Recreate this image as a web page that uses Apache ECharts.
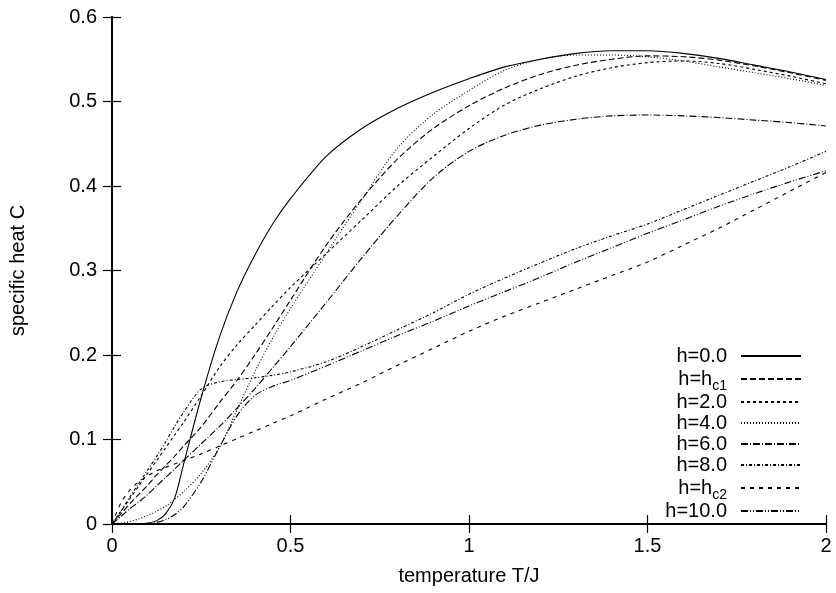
<!DOCTYPE html>
<html>
<head>
<meta charset="utf-8">
<script src="https://cdn.jsdelivr.net/npm/echarts@6/dist/echarts.min.js"></script>
<style>html,body{margin:0;padding:0;background:#fff}#c{width:836px;height:593px}</style>
</head>
<body>
<div id="c"></div>
<script>
const temperature = [0, 0.025, 0.05, 0.075, 0.1, 0.125, 0.15, 0.175, 0.2, 0.25, 0.3, 0.35, 0.4, 0.45, 0.5, 0.6, 0.7, 0.8, 0.9, 1.0, 1.1, 1.2, 1.3, 1.4, 1.5, 1.6, 1.7, 1.8, 1.9, 2.0];
const h0   = [0, 0, 0, 0, 0.001, 0.004, 0.012, 0.03, 0.07, 0.15, 0.22, 0.275, 0.318, 0.355, 0.385, 0.435, 0.468, 0.492, 0.511, 0.527, 0.541, 0.55, 0.557, 0.56, 0.56, 0.557, 0.551, 0.543, 0.535, 0.526];
const hc1  = [0, 0.012, 0.024, 0.035, 0.046, 0.058, 0.069, 0.08, 0.092, 0.115, 0.143, 0.17, 0.2, 0.232, 0.265, 0.33, 0.385, 0.432, 0.468, 0.495, 0.516, 0.532, 0.543, 0.55, 0.554, 0.553, 0.549, 0.542, 0.534, 0.525];
const h2   = [0, 0.015, 0.03, 0.045, 0.06, 0.075, 0.09, 0.105, 0.12, 0.152, 0.185, 0.212, 0.235, 0.258, 0.28, 0.32, 0.36, 0.4, 0.435, 0.468, 0.496, 0.515, 0.53, 0.54, 0.546, 0.548, 0.545, 0.538, 0.53, 0.521];
const h4   = [0, 0.001, 0.003, 0.006, 0.01, 0.015, 0.021, 0.029, 0.038, 0.06, 0.09, 0.135, 0.18, 0.22, 0.255, 0.32, 0.384, 0.445, 0.485, 0.513, 0.537, 0.55, 0.555, 0.555, 0.553, 0.548, 0.541, 0.534, 0.527, 0.519];
const h6   = [0, 0.009, 0.018, 0.026, 0.035, 0.045, 0.055, 0.065, 0.075, 0.095, 0.115, 0.137, 0.16, 0.185, 0.21, 0.262, 0.315, 0.365, 0.41, 0.441, 0.46, 0.472, 0.479, 0.483, 0.484, 0.483, 0.481, 0.478, 0.475, 0.471];
const h8   = [0, 0.015, 0.032, 0.048, 0.064, 0.08, 0.097, 0.115, 0.132, 0.16, 0.168, 0.171, 0.173, 0.176, 0.18, 0.192, 0.21, 0.23, 0.25, 0.272, 0.291, 0.309, 0.326, 0.341, 0.355, 0.372, 0.389, 0.406, 0.423, 0.441];
const hc2  = [0, 0.025, 0.04, 0.05, 0.057, 0.063, 0.067, 0.071, 0.075, 0.083, 0.092, 0.101, 0.11, 0.119, 0.128, 0.148, 0.167, 0.188, 0.208, 0.228, 0.246, 0.262, 0.278, 0.294, 0.31, 0.33, 0.35, 0.372, 0.394, 0.416];
const h10  = [0, 0, 0, 0, 0, 0.002, 0.005, 0.011, 0.02, 0.05, 0.09, 0.128, 0.152, 0.163, 0.17, 0.187, 0.205, 0.223, 0.24, 0.258, 0.275, 0.292, 0.31, 0.327, 0.344, 0.36, 0.376, 0.391, 0.405, 0.418];
const seriesNames = ['h=0.0', 'h=hc1', 'h=2.0', 'h=4.0', 'h=6.0', 'h=8.0', 'h=hc2', 'h=10.0'];
const seriesValues = [h0, hc1, h2, h4, h6, h8, hc2, h10];
const xTicks = [0, 0.5, 1, 1.5, 2];
const yTicks = [0, 0.1, 0.2, 0.3, 0.4, 0.5, 0.6];

const dashes = [
  'solid',
  [6, 3],
  [3, 3],
  [1, 2],
  [7, 2, 1, 2],
  [3, 2, 1, 2],
  [4, 5],
  [7, 2, 1, 2, 1, 2]
];

const FONT = 'Liberation Sans';
const chart = echarts.init(document.getElementById('c'), null, {renderer: 'canvas'});

const series = seriesNames.map((name, i) => ({
  name: name,
  type: 'line',
  data: temperature.map((t, k) => [t, seriesValues[i][k]]),
  smooth: 0.3,
  showSymbol: false,
  symbol: 'none',
  animation: false,
  clip: true,
  lineStyle: {color: '#000', width: 1.1, type: dashes[i]},
  itemStyle: {color: '#000'}
}));

const baseAxisLine = {show: true, lineStyle: {color: '#000', width: 2}};
const tick = {show: true, inside: true, length: 9, lineStyle: {color: '#000', width: 1.2}};

chart.setOption({
  animation: false,
  backgroundColor: '#fff',
  grid: {left: 108, right: 10, top: 17, bottom: 69, containLabel: false},
  xAxis: [
    {type: 'value', min: xTicks[0], max: xTicks[xTicks.length - 1], interval: 0.5, position: 'bottom',
     axisLine: baseAxisLine, axisTick: tick, splitLine: {show: false},
     axisLabel: {color: '#000', fontFamily: FONT, fontSize: 20, margin: 12},
     name: 'temperature T/J', nameLocation: 'middle', nameGap: 42,
     nameTextStyle: {color: '#000', fontFamily: FONT, fontSize: 20}},
    {type: 'value', min: xTicks[0], max: xTicks[xTicks.length - 1], interval: 0.5, position: 'top',
     axisLine: baseAxisLine, axisTick: tick, splitLine: {show: false}, axisLabel: {show: false}}
  ],
  yAxis: [
    {type: 'value', min: yTicks[0], max: yTicks[yTicks.length - 1], interval: 0.1, position: 'left',
     axisLine: baseAxisLine, axisTick: tick, splitLine: {show: false},
     axisLabel: {color: '#000', fontFamily: FONT, fontSize: 20, margin: 15},
     name: 'specific heat C', nameLocation: 'middle', nameGap: 84,
     nameTextStyle: {color: '#000', fontFamily: FONT, fontSize: 20}},
    {type: 'value', min: yTicks[0], max: yTicks[yTicks.length - 1], interval: 0.1, position: 'right',
     axisLine: baseAxisLine, axisTick: tick, splitLine: {show: false}, axisLabel: {show: false}}
  ],
  legend: {
    orient: 'vertical', align: 'right', right: 34, top: 344, padding: 0,
    itemWidth: 60, itemHeight: 14, itemGap: -3,
    itemStyle: {opacity: 0},
    data: seriesNames,
    formatter: n => n.replace(/^h=h(c\d)$/, 'h=h{sub|$1}'),
    textStyle: {color: '#000', fontFamily: FONT, fontSize: 20, lineHeight: 24, padding: [0, 9, 0, 0],
      rich: {sub: {fontFamily: FONT, fontSize: 14, lineHeight: 10, padding: [14, 0, 0, 0]}}}
  },
  series: series
});
</script>
</body>
</html>
